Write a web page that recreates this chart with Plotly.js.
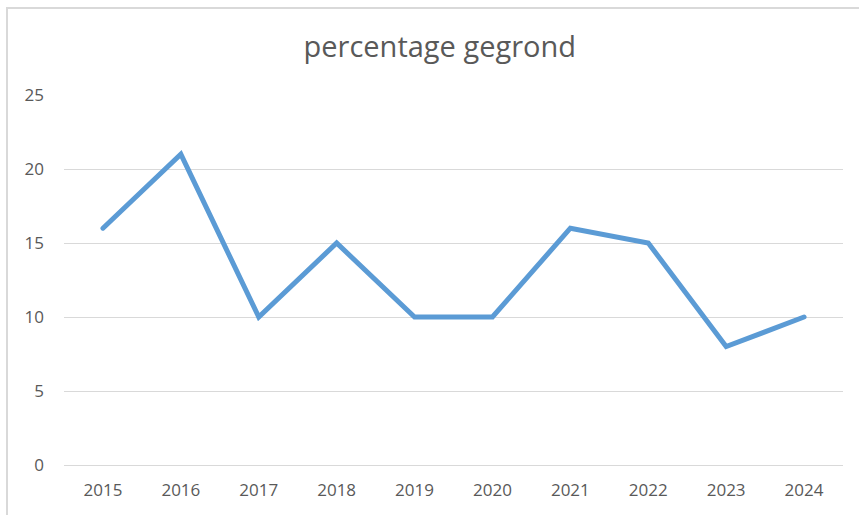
<!DOCTYPE html>
<html>
<head>
<meta charset="utf-8">
<script src="https://cdn.plot.ly/plotly-3.0.1.min.js"></script>
<style>
html,body{margin:0;padding:0;background:#fff;overflow:hidden;}
#frame{position:absolute;left:6px;top:7px;width:900px;height:600px;border-left:2px solid #d9d9d9;border-top:2px solid #d9d9d9;}
#chart{position:absolute;left:0;top:0;width:859px;height:515px;}
#chart path.js-line{stroke-linecap:round;}
</style>
</head>
<body>
<div id="frame"></div>
<div id="chart"></div>
<script>
const years = ['2015','2016','2017','2018','2019','2020','2021','2022','2023','2024'];
const gegrond = [16, 21, 10, 15, 10, 10, 16, 15, 8, 10];
const yTicks = [0, 5, 10, 15, 20, 25];

const trace = {
  x: years, y: gegrond, type: 'scatter', mode: 'lines',
  line: {color: '#5b9bd5', width: 5},
  hoverinfo: 'skip'
};
const layout = {
  width: 859, height: 515,
  margin: {l: 64, r: 16, t: 95, b: 50},
  paper_bgcolor: 'rgba(0,0,0,0)', plot_bgcolor: 'rgba(0,0,0,0)',
  font: {family: 'Open Sans, Liberation Sans, sans-serif', color: '#595959', size: 16},
  title: {text: 'percentage gegrond', x: 0.512, xanchor: 'center', y: 0.91, yanchor: 'middle',
          font: {size: 29, color: '#595959', family: 'Open Sans, sans-serif'}},
  showlegend: false,
  xaxis: {type: 'category', range: [-0.5, 9.5], showgrid: false, zeroline: false, showline: true, linecolor: '#d9d9d9', linewidth: 1,
          ticks: '', ticklabelstandoff: 10, tickfont: {size: 17, color: '#595959'}},
  yaxis: {range: [0, 25], tickvals: yTicks, showgrid: true, gridcolor: '#d9d9d9', gridwidth: 1, zeroline: false,
          showline: false, ticks: '', ticklabelstandoff: 19, tickfont: {size: 17, color: '#595959'}}
};
Plotly.newPlot('chart', [trace], layout, {displayModeBar: false, staticPlot: true});
</script>
</body>
</html>
